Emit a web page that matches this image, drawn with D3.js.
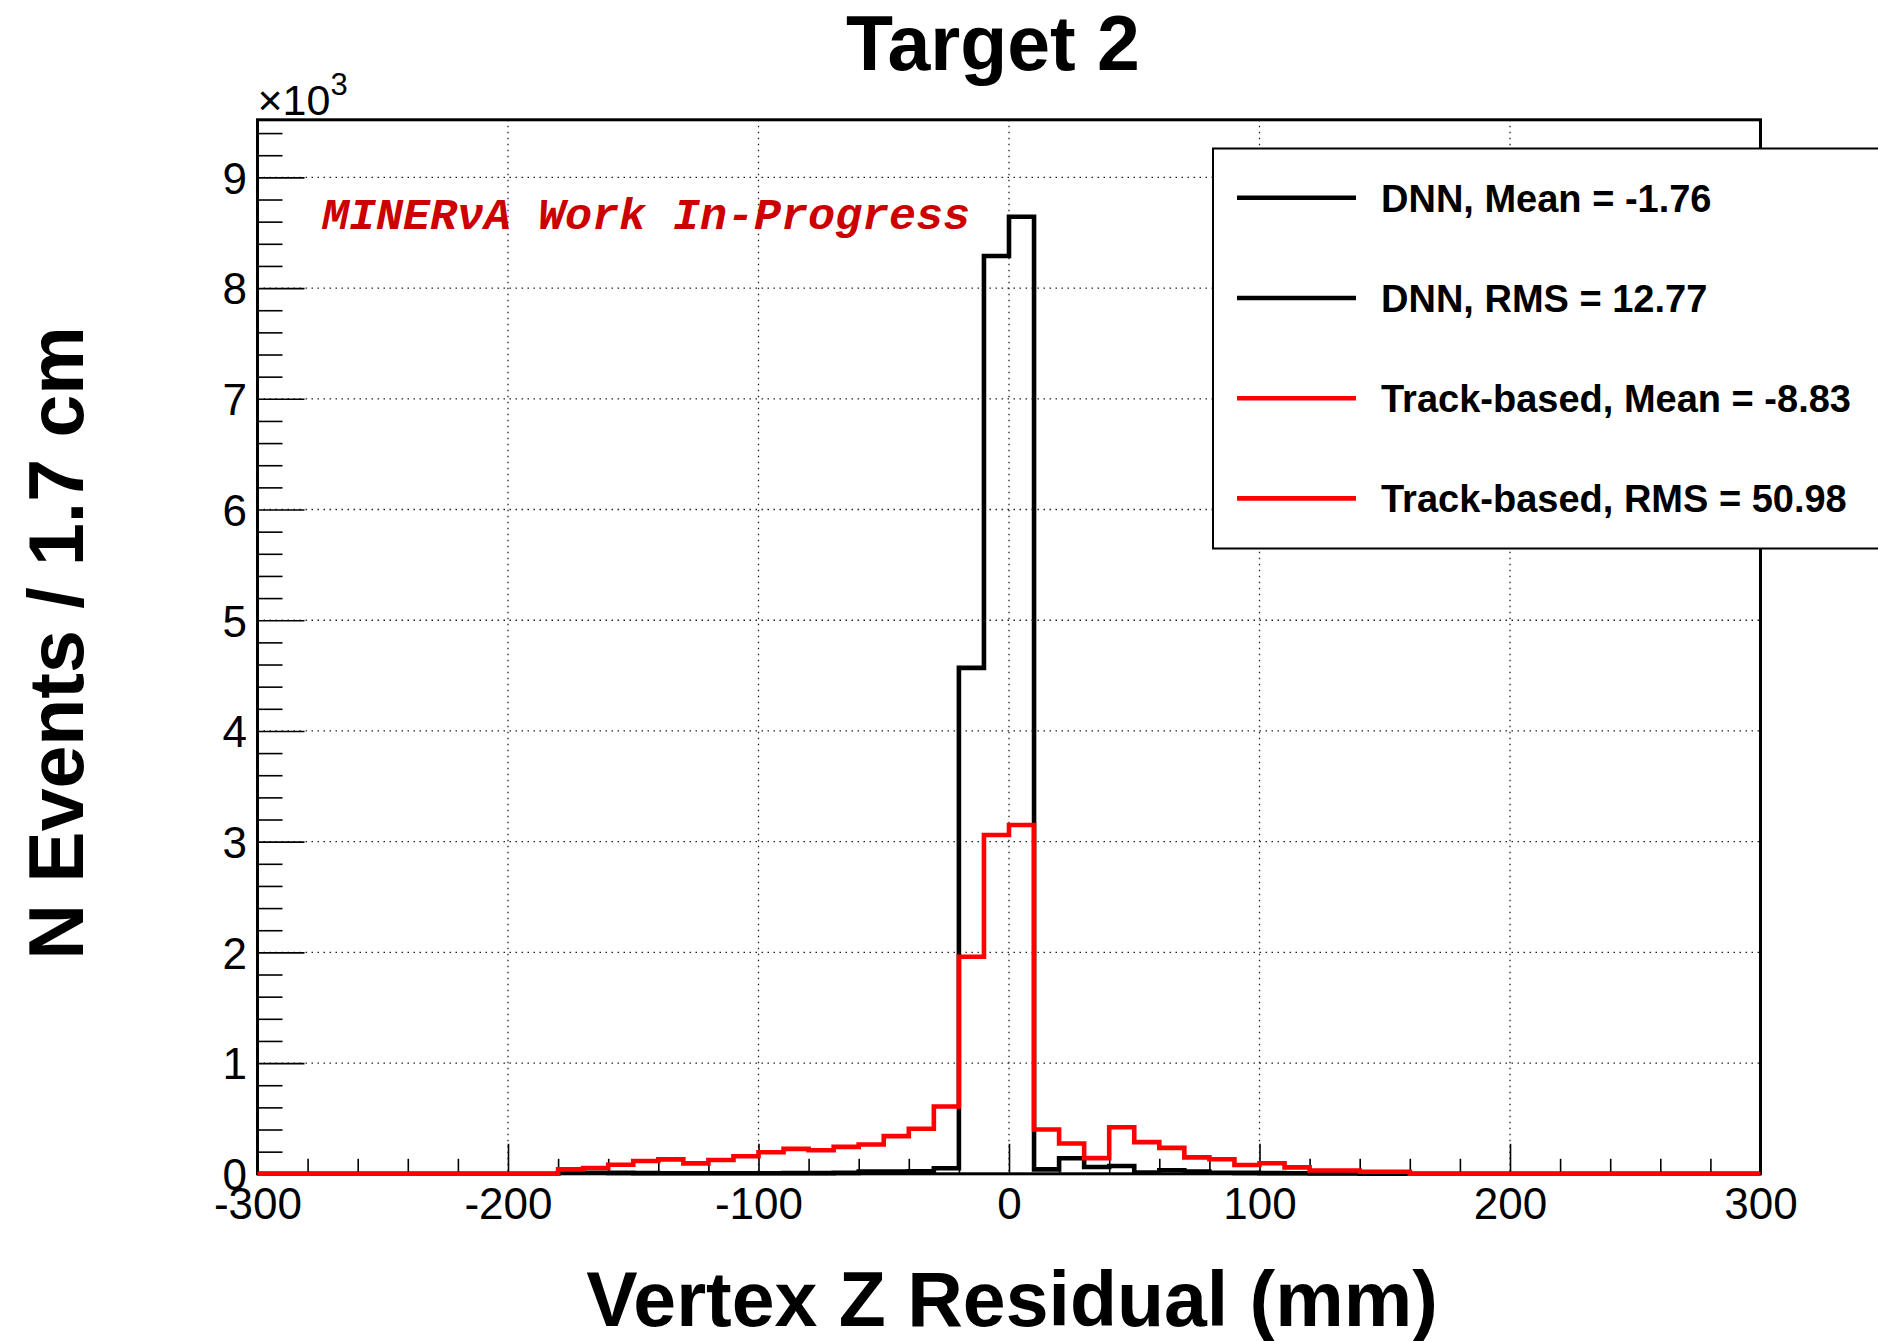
<!DOCTYPE html>
<html>
<head>
<meta charset="utf-8">
<script src="https://cdn.jsdelivr.net/npm/d3@7"></script>
<style>
  html, body { margin: 0; padding: 0; background: #fff; }
  #chart { width: 1878px; height: 1341px; }
  text { font-family: "Liberation Sans", Arial, Helvetica, sans-serif; }
</style>
</head>
<body>
<div id="chart"></div>
<script>
// bin edges in mm (10 mm bins)
const binEdges = [
  -300, -290, -280, -270, -260, -250, -240, -230, -220, -210,
  -200, -190, -180, -170, -160, -150, -140, -130, -120, -110,
  -100, -90, -80, -70, -60, -50, -40, -30, -20, -10,
  0, 10, 20, 30, 40, 50, 60, 70, 80, 90,
  100, 110, 120, 130, 140, 150, 160, 170, 180, 190,
  200, 210, 220, 230, 240, 250, 260, 270, 280, 290, 300
];

const dnnCounts = [
  0, 0, 0, 0, 0, 0, 0, 0, 0, 0,
  0, 0, 12, 10, 8, 6, 5, 5, 5, 5,
  5, 6, 6, 8, 20, 20, 22, 50, 4570, 8290,
  8645, 40, 140, 62, 70, 12, 32, 20, 10, 8,
  6, 5, 4, 4, 2, 2, 0, 0, 0, 0,
  0, 0, 0, 0, 0, 0, 0, 0, 0, 0
];

const trackCounts = [
  0, 0, 0, 0, 0, 0, 0, 0, 0, 0,
  0, 0, 40, 52, 82, 115, 130, 94, 125, 158,
  195, 225, 213, 243, 264, 340, 407, 608, 1960, 3060,
  3150, 400, 274, 142, 420, 286, 234, 148, 132, 80,
  95, 58, 30, 30, 18, 18, 0, 0, 0, 0,
  0, 0, 0, 0, 0, 0, 0, 0, 0, 0
];

const xMajorTicks = [-300, -200, -100, 0, 100, 200, 300];
const xTickLabels = ['-300', '-200', '-100', '0', '100', '200', '300'];
const xMinorTicks = [-280, -260, -240, -220, -180, -160, -140, -120, -80, -60, -40, -20,
  20, 40, 60, 80, 120, 140, 160, 180, 220, 240, 260, 280];
const yMajorTicks = [0, 1000, 2000, 3000, 4000, 5000, 6000, 7000, 8000, 9000];
const yMinorTicks = [200, 400, 600, 800, 1200, 1400, 1600, 1800, 2200, 2400, 2600, 2800,
  3200, 3400, 3600, 3800, 4200, 4400, 4600, 4800, 5200, 5400, 5600, 5800,
  6200, 6400, 6600, 6800, 7200, 7400, 7600, 7800, 8200, 8400, 8600, 8800, 9200, 9400];
const yTickLabels = ['0', '1', '2', '3', '4', '5', '6', '7', '8', '9'];

const legendLabels = [
  'DNN, Mean = -1.76',
  'DNN, RMS = 12.77',
  'Track-based, Mean = -8.83',
  'Track-based, RMS = 50.98'
];
const legendColors = ['#000000', '#000000', '#ff0000', '#ff0000'];

const W = 1878, H = 1341;
const frame = { left: 257.5, right: 1760.5, top: 119.8, bottom: 1173.8 };

const svg = d3.select('#chart').append('svg')
  .attr('width', W)
  .attr('height', H)
  .attr('viewBox', `0 0 ${W} ${H}`);

svg.append('rect').attr('width', W).attr('height', H).attr('fill', '#fff');

const x = d3.scaleLinear().domain([-300, 300]).range([frame.left, frame.right]);
const y = d3.scaleLinear().domain([0, 9520]).range([frame.bottom, frame.top]);

// dotted grid
const grid = svg.append('g').attr('class', 'grid')
  .attr('stroke', '#222')
  .attr('stroke-width', 1.3)
  .attr('stroke-dasharray', '1.5,4.5');

grid.selectAll('.vg')
  .data(xMajorTicks.filter(d => d > -300 && d < 300))
  .join('line')
  .attr('x1', d => x(d)).attr('x2', d => x(d))
  .attr('y1', frame.top).attr('y2', frame.bottom);

grid.selectAll('.hg')
  .data(yMajorTicks.filter(d => d > 0))
  .join('line')
  .attr('x1', frame.left).attr('x2', frame.right)
  .attr('y1', d => y(d)).attr('y2', d => y(d));

// axes: ticks point inward
const xAxis = svg.append('g')
  .attr('transform', `translate(0,${frame.bottom})`)
  .call(d3.axisBottom(x).tickValues(xMajorTicks).tickSize(-30).tickPadding(14)
    .tickFormat((d, i) => xTickLabels[i]));

svg.append('g')
  .attr('transform', `translate(0,${frame.bottom})`)
  .call(d3.axisBottom(x).tickValues(xMinorTicks).tickSize(-15).tickFormat(''));

const yAxis = svg.append('g')
  .attr('transform', `translate(${frame.left},0)`)
  .call(d3.axisLeft(y).tickValues(yMajorTicks).tickSize(-47).tickPadding(10.5)
    .tickFormat((d, i) => yTickLabels[i]));

svg.append('g')
  .attr('transform', `translate(${frame.left},0)`)
  .call(d3.axisLeft(y).tickValues(yMinorTicks).tickSize(-25).tickFormat(''));

svg.selectAll('.domain').remove();
svg.selectAll('.tick line').attr('stroke', '#000').attr('stroke-width', 1.6);

xAxis.selectAll('text')
  .attr('fill', '#000')
  .style('font-family', '"Liberation Sans", Arial, sans-serif')
  .style('font-size', '44px');

yAxis.selectAll('text')
  .attr('fill', '#000')
  .attr('dy', '0.36em')
  .style('font-family', '"Liberation Sans", Arial, sans-serif')
  .style('font-size', '44px');

// frame
svg.append('rect')
  .attr('x', frame.left).attr('y', frame.top)
  .attr('width', frame.right - frame.left)
  .attr('height', frame.bottom - frame.top)
  .attr('fill', 'none')
  .attr('stroke', '#000')
  .attr('stroke-width', 3);

// histograms as step outlines
const step = d3.line()
  .x(d => x(d[0]))
  .y(d => y(d[1]))
  .curve(d3.curveStepAfter);

function histPoints(counts) {
  return binEdges.map((e, i) => [e, counts[Math.min(i, counts.length - 1)]]);
}

svg.append('path')
  .attr('d', step(histPoints(dnnCounts)))
  .attr('fill', 'none')
  .attr('stroke', '#000')
  .attr('stroke-width', 4.6);

svg.append('path')
  .attr('d', step(histPoints(trackCounts)))
  .attr('fill', 'none')
  .attr('stroke', '#ff0000')
  .attr('stroke-width', 4.6);

// exponent label
const expo = svg.append('text')
  .attr('x', frame.left)
  .attr('y', 115)
  .style('font-size', '43px')
  .attr('fill', '#000');
expo.append('tspan').text('\u00d710');
expo.append('tspan').attr('dy', -20).style('font-size', '31px').text('3');

// title
svg.append('text')
  .attr('x', 993)
  .attr('y', 70)
  .attr('text-anchor', 'middle')
  .style('font-size', '77px')
  .style('font-weight', 'bold')
  .text('Target 2');

// axis titles
svg.append('text')
  .attr('x', 1012)
  .attr('y', 1326)
  .attr('text-anchor', 'middle')
  .style('font-size', '77px')
  .style('font-weight', 'bold')
  .text('Vertex Z Residual (mm)');

svg.append('text')
  .attr('transform', 'translate(83,643) rotate(-90)')
  .attr('text-anchor', 'middle')
  .style('font-size', '77px')
  .style('font-weight', 'bold')
  .text('N Events / 1.7 cm');

// work in progress label
svg.append('text')
  .attr('x', 322)
  .attr('y', 229)
  .attr('fill', '#cc0000')
  .style('font-family', '"Liberation Mono", "Courier New", monospace')
  .style('font-size', '45px')
  .style('font-weight', 'bold')
  .style('font-style', 'italic')
  .text('MINER\u03bdA Work In-Progress');

// legend
const legend = svg.append('g');
legend.append('rect')
  .attr('x', 1213).attr('y', 148.5)
  .attr('width', 720).attr('height', 400)
  .attr('fill', '#fff')
  .attr('stroke', '#000')
  .attr('stroke-width', 2);

const rows = legend.selectAll('.legend-row')
  .data(legendLabels)
  .join('g')
  .attr('class', 'legend-row')
  .attr('transform', (d, i) => `translate(0,${197.8 + i * 100.2})`);

rows.append('line')
  .attr('x1', 1237).attr('x2', 1356)
  .attr('y1', 0).attr('y2', 0)
  .attr('stroke', (d, i) => legendColors[i])
  .attr('stroke-width', 4.6);

rows.append('text')
  .attr('x', 1381)
  .attr('y', 14)
  .style('font-size', '38px')
  .style('font-weight', 'bold')
  .attr('fill', '#000')
  .text(d => d);
</script>
</body>
</html>
